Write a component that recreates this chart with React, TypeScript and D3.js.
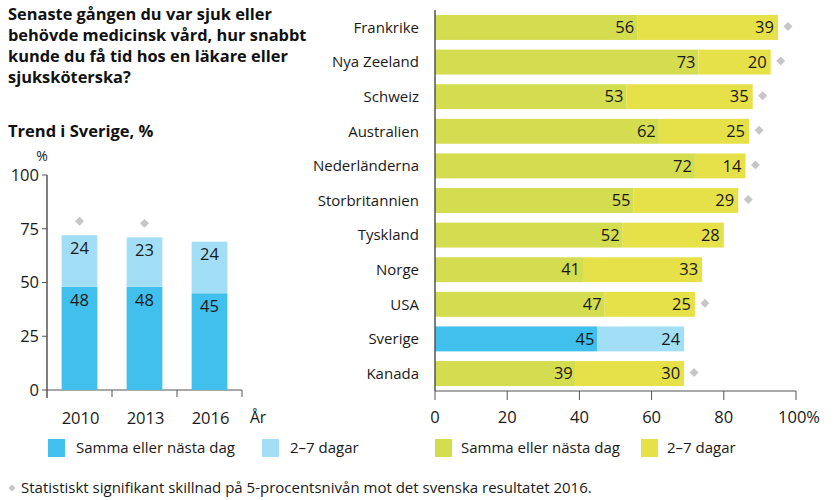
import React, { useEffect, useRef } from 'react'
import * as d3 from 'd3'

// Trend i Sverige
const years = ['2010', '2013', '2016']
const trendSame = [48, 48, 45]
const trendWeek = [24, 23, 24]
const trendSignif = [true, true, false]
const trendTicks = [0, 25, 50, 75, 100]

// Länder
const countries = ['Frankrike', 'Nya Zeeland', 'Schweiz', 'Australien', 'Nederländerna', 'Storbritannien', 'Tyskland', 'Norge', 'USA', 'Sverige', 'Kanada']
const countrySame = [56, 73, 53, 62, 72, 55, 52, 41, 47, 45, 39]
const countryWeek = [39, 20, 35, 25, 14, 29, 28, 33, 25, 24, 30]
const countrySignif = [true, true, true, true, true, true, false, false, true, false, true]
const countryTicks = [0, 20, 40, 60, 80, 100]

const titleLines = ['Senaste gången du var sjuk eller', 'behövde medicinsk vård, hur snabbt', 'kunde du få tid hos en läkare eller', 'sjuksköterska?']
const legendLabels = ['Samma eller nästa dag', '2–7 dagar']
const footnote = 'Statistiskt signifikant skillnad på 5-procentsnivån mot det svenska resultatet 2016.'

const FONT = '"Open Sans", "Noto Sans", sans-serif'
const BLUE = '#41bfed'
const LIGHT_BLUE = '#a2dff7'
const GREEN = '#d4dc4f'
const YELLOW = '#e6e148'
const GRAY = '#c6c6c6'
const AXIS = '#555'
const INK = '#1a1a1a'
const NUM = 16.5 // numbers a bit larger than words

export default function App() {
  const svgRef = useRef<SVGSVGElement>(null)

  useEffect(() => {
    if (!svgRef.current) return
    const svg = d3.select(svgRef.current)
    svg.selectAll('*').remove()
    svg.attr('font-family', FONT)

    const diamond = d3.symbol().type(d3.symbolSquare).size(40)

    // Title
    svg.append('text')
      .attr('font-size', 16.4)
      .attr('font-weight', 'bold')
      .attr('fill', '#111')
      .selectAll('tspan')
      .data(titleLines)
      .enter().append('tspan')
      .attr('x', 8)
      .attr('y', (d, i) => 20 + i * 21)
      .text(d => d)

    svg.append('text')
      .attr('x', 8).attr('y', 137)
      .attr('font-size', 16.5).attr('font-weight', 'bold').attr('fill', '#111')
      .text('Trend i Sverige, %')

    // ---- Left chart ----
    const lx = d3.scaleBand().domain(years).range([47, 242]).paddingInner(0.45).paddingOuter(0.225)
    const ly = d3.scaleLinear().domain([0, 100]).range([390, 175])
    const left = svg.append('g')

    left.append('line').attr('x1', 47).attr('x2', 47).attr('y1', ly(100)).attr('y2', ly(0) + 8)
      .attr('stroke', AXIS).attr('stroke-width', 1.5)
    left.append('line').attr('x1', 47).attr('x2', 242).attr('y1', ly(0)).attr('y2', ly(0))
      .attr('stroke', AXIS).attr('stroke-width', 1.2)
    trendTicks.forEach(t => {
      left.append('line').attr('x1', 42).attr('x2', 47).attr('y1', ly(t)).attr('y2', ly(t)).attr('stroke', AXIS)
      left.append('text').attr('x', 39).attr('y', ly(t)).attr('dy', '0.35em').attr('text-anchor', 'end')
        .attr('font-size', NUM).attr('fill', INK).text(t)
    })
    left.append('text').attr('x', 42).attr('y', 161).attr('text-anchor', 'middle')
      .attr('font-size', 14).attr('fill', INK).text('%')
    // x ticks at band boundaries
    years.forEach(yr => {
      const bx = (lx(yr) || 0) + lx.bandwidth() + lx.step() * lx.paddingInner() / 2
      left.append('line').attr('x1', bx).attr('x2', bx).attr('y1', ly(0)).attr('y2', ly(0) + 7).attr('stroke', AXIS)
      left.append('text').attr('x', (lx(yr) || 0) + lx.bandwidth() / 2 + 1).attr('y', 418).attr('dy', '0.35em')
        .attr('text-anchor', 'middle').attr('font-size', NUM).attr('fill', INK).text(yr)
    })
    left.append('text').attr('x', 250).attr('y', 418).attr('dy', '0.35em').attr('font-size', 15.5).attr('fill', INK).text('År')

    years.forEach((yr, i) => {
      const x0 = lx(yr) || 0
      const w = lx.bandwidth()
      const s = trendSame[i]
      const wk = trendWeek[i]
      left.append('rect').attr('x', x0).attr('width', w).attr('y', ly(s)).attr('height', ly(0) - ly(s)).attr('fill', BLUE)
      left.append('rect').attr('x', x0).attr('width', w).attr('y', ly(s + wk)).attr('height', ly(s) - ly(s + wk)).attr('fill', LIGHT_BLUE)
      left.append('text').attr('x', x0 + w / 2).attr('y', ly(s) + 13).attr('dy', '0.35em')
        .attr('text-anchor', 'middle').attr('font-size', NUM).attr('fill', INK).text(s)
      left.append('text').attr('x', x0 + w / 2).attr('y', ly(s + wk) + 13).attr('dy', '0.35em')
        .attr('text-anchor', 'middle').attr('font-size', NUM).attr('fill', INK).text(wk)
      if (trendSignif[i]) {
        left.append('path').attr('d', diamond)
          .attr('transform', `translate(${x0 + w / 2},${ly(s + wk) - 14}) rotate(45)`)
          .attr('fill', GRAY)
      }
    })

    // Left legend
    const legL = [{ x: 48, c: BLUE }, { x: 262, c: LIGHT_BLUE }]
    legL.forEach((l, i) => {
      svg.append('rect').attr('x', l.x).attr('y', 439).attr('width', 17).attr('height', 18).attr('fill', l.c)
      svg.append('text').attr('x', l.x + 28).attr('y', 448).attr('dy', '0.35em')
        .attr('font-size', 15).attr('fill', INK).text(legendLabels[i])
    })

    // ---- Right chart ----
    const rx = d3.scaleLinear().domain([0, 100]).range([435, 796])
    const ry = d3.scaleBand().domain(countries).range([10, 391]).paddingInner(0.28).paddingOuter(0.145)
    const right = svg.append('g')

    countries.forEach((c, i) => {
      const y0 = ry(c) || 0
      const h = ry.bandwidth()
      const s = countrySame[i]
      const wk = countryWeek[i]
      const isSwe = c === 'Sverige'
      right.append('rect').attr('x', rx(0)).attr('y', y0).attr('width', rx(s) - rx(0)).attr('height', h)
        .attr('fill', isSwe ? BLUE : GREEN)
      right.append('rect').attr('x', rx(s)).attr('y', y0).attr('width', rx(s + wk) - rx(s)).attr('height', h)
        .attr('fill', isSwe ? LIGHT_BLUE : YELLOW)
      right.append('text').attr('x', rx(s) - 3).attr('y', y0 + h / 2).attr('dy', '0.35em')
        .attr('text-anchor', 'end').attr('font-size', NUM).attr('fill', INK).text(s)
      right.append('text').attr('x', rx(s + wk) - 4).attr('y', y0 + h / 2).attr('dy', '0.35em')
        .attr('text-anchor', 'end').attr('font-size', NUM).attr('fill', INK).text(wk)
      right.append('text').attr('x', 419).attr('y', y0 + h / 2).attr('dy', '0.35em')
        .attr('text-anchor', 'end').attr('font-size', 15).attr('fill', INK).text(c)
      if (countrySignif[i]) {
        right.append('path').attr('d', diamond)
          .attr('transform', `translate(${rx(s + wk) + 10},${y0 + h / 2 - 1}) rotate(45)`)
          .attr('fill', GRAY)
      }
    })

    right.append('line').attr('x1', rx(0)).attr('x2', rx(0)).attr('y1', 10).attr('y2', 391)
      .attr('stroke', AXIS).attr('stroke-width', 1.5)
    right.append('line').attr('x1', rx(0)).attr('x2', rx(100)).attr('y1', 391).attr('y2', 391)
      .attr('stroke', AXIS).attr('stroke-width', 1.2)
    countryTicks.forEach(t => {
      right.append('line').attr('x1', rx(t)).attr('x2', rx(t)).attr('y1', 391).attr('y2', 400).attr('stroke', AXIS)
      right.append('text').attr('x', rx(t) + (t === 100 ? 3 : 0)).attr('y', 417).attr('dy', '0.35em')
        .attr('text-anchor', 'middle').attr('font-size', NUM).attr('fill', INK)
        .text(t === 100 ? '100%' : t)
    })

    // Right legend
    const legR = [{ x: 435, c: GREEN }, { x: 641, c: YELLOW }]
    legR.forEach((l, i) => {
      svg.append('rect').attr('x', l.x).attr('y', 439).attr('width', 17).attr('height', 18).attr('fill', l.c)
      svg.append('text').attr('x', l.x + 26).attr('y', 448).attr('dy', '0.35em')
        .attr('font-size', 15).attr('fill', INK).text(legendLabels[i])
    })

    // Footnote
    svg.append('path').attr('d', d3.symbol().type(d3.symbolSquare).size(24))
      .attr('transform', 'translate(12,488) rotate(45)').attr('fill', GRAY)
    svg.append('text').attr('x', 21).attr('y', 488).attr('dy', '0.35em')
      .attr('font-size', 15).attr('fill', INK).text(footnote)
  }, [])

  return (
    <div style={{ position: 'absolute', left: 0, top: 0, width: 840, height: 500, background: '#fff' }}>
      <svg ref={svgRef} width={840} height={500} style={{ display: 'block' }}></svg>
    </div>
  )
}
